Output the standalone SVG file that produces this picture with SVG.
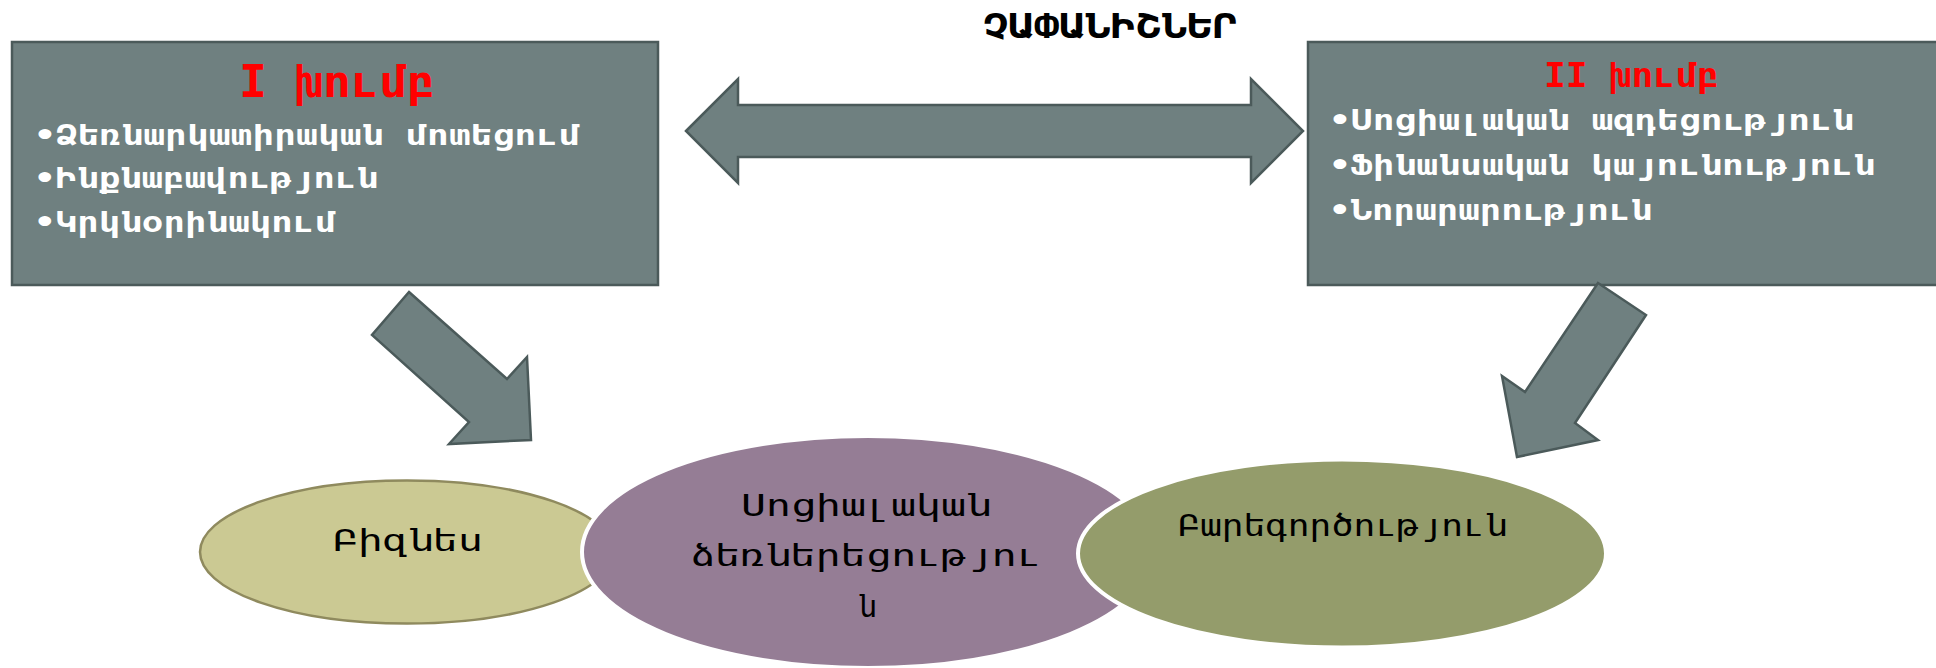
<svg xmlns="http://www.w3.org/2000/svg" width="1936" height="668" viewBox="0 0 1936 668">
<style>
.box{fill:#6f8080;stroke:#4b5a5a;stroke-width:2.5}
.arr{fill:#6f8080;stroke:#4b5a5a;stroke-width:2.5;stroke-linejoin:miter}
.t{font-family:"DejaVu Sans Mono","DejaVu Sans",monospace}
.head{fill:#ff0000;font-weight:bold}
.bul{fill:#ffffff;font-weight:bold;font-size:29px}
.lbl{fill:#000000;font-size:30px}
</style>
<rect width="1936" height="668" fill="#ffffff"/>
<g id="title">
<text class="t" x="983" y="38" font-size="33" font-weight="bold" fill="#000" textLength="255" lengthAdjust="spacingAndGlyphs">ՉԱՓԱՆԻՇՆԵՐ</text>
</g>
<g id="group1">
<rect class="box" x="12" y="42" width="646" height="243"/>
<text class="t head" x="239" y="97" font-size="44" textLength="196" lengthAdjust="spacingAndGlyphs">I խումբ</text>
<text class="t bul" x="34" y="145" textLength="546" lengthAdjust="spacingAndGlyphs">•Ձեռնարկատիրական մոտեցում</text>
<text class="t bul" x="34" y="188" textLength="344" lengthAdjust="spacingAndGlyphs">•Ինքնաբավություն</text>
<text class="t bul" x="34" y="232" textLength="302" lengthAdjust="spacingAndGlyphs">•Կրկնօրինակում</text>
</g>
<g id="group2">
<rect class="box" x="1308" y="42" width="640" height="243"/>
<text class="t head" x="1544" y="87" font-size="34" textLength="175" lengthAdjust="spacingAndGlyphs">II խումբ</text>
<text class="t bul" x="1329" y="130" textLength="525" lengthAdjust="spacingAndGlyphs">•Սոցիալական ազդեցություն</text>
<text class="t bul" x="1329" y="175" textLength="546" lengthAdjust="spacingAndGlyphs">•Ֆինանսական կայունություն</text>
<text class="t bul" x="1329" y="220" textLength="323" lengthAdjust="spacingAndGlyphs">•Նորարարություն</text>
</g>
<g id="connectors">
<polygon class="arr" points="686,131 738,79 738,105 1251,105 1251,79 1303,131 1251,183 1251,157 738,157 738,183"/>
<polygon class="arr" points="409,292 507,379 527,357 531,440 449,444 469,422 372,335"/>
<polygon class="arr" points="1598,283 1646,315 1575,423 1598,440 1517,457 1502,376 1525,392"/>
</g>
<g id="business">
<ellipse cx="407" cy="552" rx="207" ry="71.5" fill="#cbc993" stroke="#8f8a5e" stroke-width="2.5"/>
<text class="t lbl" x="333" y="551" textLength="150" lengthAdjust="spacingAndGlyphs">Բիզնես</text>
</g>
<g id="social">
<ellipse cx="868" cy="552" rx="286" ry="116" fill="#957d95" stroke="#ffffff" stroke-width="4"/>
<text class="t lbl" x="741" y="516" textLength="250" lengthAdjust="spacingAndGlyphs">Սոցիալական</text>
<text class="t lbl" x="690" y="566" textLength="352" lengthAdjust="spacingAndGlyphs">ձեռներեցությու</text>
<text class="t lbl" x="867" y="617" text-anchor="middle">ն</text>
</g>
<g id="charity">
<ellipse cx="1342" cy="553.5" rx="264" ry="94" fill="#949c6b" stroke="#ffffff" stroke-width="4"/>
<text class="t lbl" x="1178" y="536" textLength="329" lengthAdjust="spacingAndGlyphs">Բարեգործություն</text>
</g>
</svg>
